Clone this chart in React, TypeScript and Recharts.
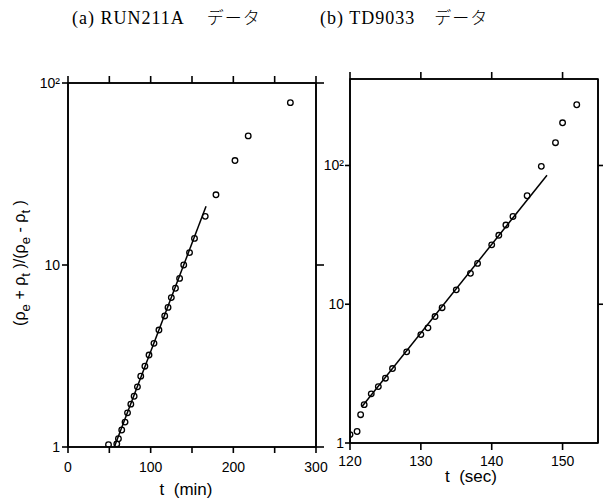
import React from 'react';
import { ScatterChart, Scatter, XAxis, YAxis, ReferenceArea } from 'recharts';

// (a) RUN211A, t in min
const aT = [49, 59, 61, 65, 69, 72, 76, 80, 84, 88, 93, 98, 104, 110, 117, 121, 125, 130, 135, 140, 147, 153, 166, 179, 202, 218, 269];
const aRatio = [1.03, 1.04, 1.11, 1.24, 1.37, 1.54, 1.72, 1.9, 2.14, 2.45, 2.78, 3.2, 3.71, 4.39, 5.25, 5.85, 6.62, 7.45, 8.44, 10, 11.7, 14, 18.5, 24.3, 37.5, 51.2, 78];
const aFitT = [56, 167];
const aFitRatio = [1, 21];

// (b) TD9033, t in sec
const bT = [120, 121, 121.5, 122, 123, 124, 125, 126, 128, 130, 131, 132, 133, 135, 137, 138, 140, 141, 142, 143, 145, 147, 149, 150, 152];
const bRatio = [1.15, 1.21, 1.6, 1.89, 2.26, 2.55, 2.93, 3.44, 4.54, 6.04, 6.76, 8.15, 9.44, 12.7, 16.7, 19.7, 26.8, 31.4, 37.2, 42.9, 60.5, 98.6, 146, 203, 274];
const bFitT = [121.7, 147.8];
const bFitRatio = [1.83, 85];

const aDomainX = [0, 300];
const aDomainY = [1, 100];
const bDomainX = [120, 155];
const bDomainY = [1, 420];
const aTicks = [0, 50, 100, 150, 200, 250, 300];
const bTicks = [120, 130, 140, 150];
const logTicks = [1, 10, 100];

const toPts = (xs: number[], ys: number[]) => xs.map((x, i) => ({ x, y: ys[i] }));

const sans = 'Liberation Sans, Arial, sans-serif';
const axisStyle = { stroke: '#000', strokeWidth: 1.6 };
const tickText = { fill: '#000', fontSize: 14, fontFamily: sans };
const noText = { fontSize: 0 };
const logLabel = (v: number) => (v === 100 ? '10²' : String(v));
const blank = () => '';

const OpenCircle = (p: any) => (
  <circle cx={p.cx} cy={p.cy} r={2.8} fill="none" stroke="#000" strokeWidth={1.3} />
);
const NoShape = () => <g />;

const PanelA = () => {
  const pts = toPts(aT, aRatio);
  return (
    <ScatterChart width={330} height={500} margin={{ top: 73, right: 4, bottom: 13, left: 8 }}>
      <XAxis xAxisId="bottom" dataKey="x" type="number" domain={aDomainX} ticks={aTicks} allowDataOverflow
        height={40} tickSize={6} tickMargin={9} axisLine={axisStyle} tickLine={axisStyle}
        tick={tickText} tickFormatter={(v: number) => (v % 100 === 0 ? String(v) : '')} />
      <XAxis xAxisId="top" orientation="top" dataKey="x" type="number" domain={aDomainX} ticks={aTicks}
        allowDataOverflow height={10} tickSize={7} axisLine={axisStyle} tickLine={axisStyle} tick={noText} tickFormatter={blank} />
      <YAxis yAxisId="left" dataKey="y" type="number" scale="log" domain={aDomainY} ticks={logTicks} allowDataOverflow
        width={60} tickSize={6} tickMargin={2} axisLine={axisStyle} tickLine={axisStyle}
        tick={tickText} tickFormatter={logLabel} />
      <YAxis yAxisId="right" orientation="right" dataKey="y" type="number" scale="log" domain={aDomainY}
        ticks={logTicks} allowDataOverflow width={10} tickSize={8} axisLine={axisStyle} tickLine={axisStyle} tick={noText} tickFormatter={blank} />
      <ReferenceArea xAxisId="bottom" yAxisId="left" x1={aDomainX[0]} x2={aDomainX[1]} y1={aDomainY[0]} y2={aDomainY[1]}
        fill="none" stroke="#000" strokeWidth={1.6} fillOpacity={0} strokeOpacity={1} ifOverflow="visible" />
      <Scatter xAxisId="bottom" yAxisId="left" data={toPts(aFitT, aFitRatio)} line={{ stroke: '#000', strokeWidth: 1.5 }} shape={NoShape} isAnimationActive={false} />
      <Scatter xAxisId="bottom" yAxisId="left" data={pts} shape={OpenCircle} isAnimationActive={false} />
      <Scatter xAxisId="top" yAxisId="right" data={pts} shape={NoShape} isAnimationActive={false} />
    </ScatterChart>
  );
};

const PanelB = () => {
  const pts = toPts(bT, bRatio);
  return (
    <ScatterChart width={303} height={500} margin={{ top: 69, right: 0, bottom: 17, left: 0 }}>
      <XAxis xAxisId="bottom" dataKey="x" type="number" domain={bDomainX} ticks={bTicks} allowDataOverflow
        height={40} tickSize={7} tickMargin={6} axisLine={axisStyle} tickLine={axisStyle} tick={tickText} />
      <XAxis xAxisId="top" orientation="top" dataKey="x" type="number" domain={bDomainX} ticks={bTicks}
        allowDataOverflow height={10} tickSize={7} axisLine={axisStyle} tickLine={axisStyle} tick={noText} tickFormatter={blank} />
      <YAxis yAxisId="left" dataKey="y" type="number" scale="log" domain={bDomainY} ticks={logTicks} allowDataOverflow
        width={50} tickSize={5} tickMargin={1} axisLine={axisStyle} tickLine={axisStyle}
        tick={tickText} tickFormatter={logLabel} />
      <YAxis yAxisId="right" orientation="right" dataKey="y" type="number" scale="log" domain={bDomainY}
        ticks={[10, 100]} allowDataOverflow width={5} tickSize={5} axisLine={axisStyle} tickLine={axisStyle} tick={noText} tickFormatter={blank} />
      <ReferenceArea xAxisId="bottom" yAxisId="left" x1={bDomainX[0]} x2={bDomainX[1]} y1={bDomainY[0]} y2={bDomainY[1]}
        fill="none" stroke="#000" strokeWidth={1.6} fillOpacity={0} strokeOpacity={1} ifOverflow="visible" />
      <Scatter xAxisId="bottom" yAxisId="left" data={toPts(bFitT, bFitRatio)} line={{ stroke: '#000', strokeWidth: 1.5 }} shape={NoShape} isAnimationActive={false} />
      <Scatter xAxisId="bottom" yAxisId="left" data={pts} shape={OpenCircle} isAnimationActive={false} />
      <Scatter xAxisId="top" yAxisId="right" data={pts} shape={NoShape} isAnimationActive={false} />
    </ScatterChart>
  );
};

const titleStyle: React.CSSProperties = {
  position: 'absolute', top: 4, fontSize: 18, letterSpacing: 1, whiteSpace: 'pre',
  fontFamily: '"Liberation Serif", "Times New Roman", serif', color: '#000',
};
const kana: React.CSSProperties = { fontFamily: '"Noto Sans CJK JP", sans-serif', letterSpacing: 1, fontWeight: 300, fontSize: 17 };

export default function App() {
  return (
    <div style={{ position: 'absolute', left: 0, top: 0, width: 603, height: 500, background: '#fff', overflow: 'hidden' }}>
      <div style={{ ...titleStyle, left: 72 }}>
        (a) RUN211A<span style={{ ...kana, marginLeft: 22 }}>データ</span>
      </div>
      <div style={{ ...titleStyle, left: 320 }}>
        (b) TD9033<span style={{ ...kana, marginLeft: 19 }}>データ</span>
      </div>
      <div style={{ position: 'absolute', left: 0, top: 0 }}>
        <PanelA />
      </div>
      <div style={{ position: 'absolute', left: 300, top: 0 }}>
        <PanelB />
      </div>
      <div style={{
        position: 'absolute', left: 22, top: 263, transform: 'translate(-50%, -50%) rotate(-90deg)',
        fontFamily: sans, fontSize: 16, whiteSpace: 'nowrap', color: '#000',
      }}>
        (ρ<sub>e</sub> + ρ<sub>t</sub> )/(ρ<sub>e</sub> - ρ<sub>t</sub> )
      </div>
      <div style={{ position: 'absolute', left: 186, top: 490, transform: 'translate(-50%, -50%)', fontFamily: sans, fontSize: 17, whiteSpace: 'pre' }}>
        t  (min)
      </div>
      <div style={{ position: 'absolute', left: 471, top: 477, transform: 'translate(-50%, -50%)', fontFamily: sans, fontSize: 17, whiteSpace: 'pre' }}>
        t  (sec)
      </div>
    </div>
  );
}
